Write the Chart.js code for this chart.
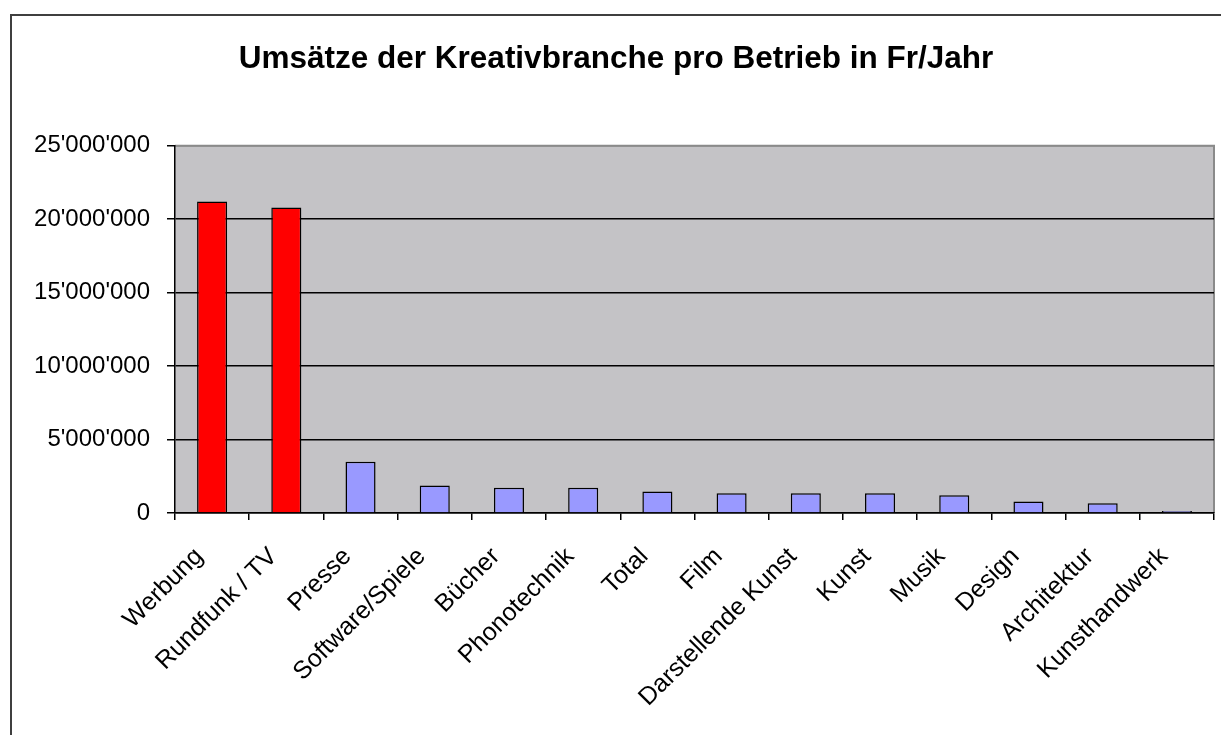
<!DOCTYPE html>
<html>
<head>
<meta charset="utf-8">
<script src="https://cdn.jsdelivr.net/npm/chart.js@4/dist/chart.umd.min.js"></script>
<style>
html,body{margin:0;padding:0;background:#fff;overflow:hidden;}
#wrap{position:relative;width:1221px;height:735px;}
</style>
</head>
<body>
<div id="wrap"><canvas id="c" width="1221" height="735"></canvas></div>
<script>
const categories = ['Werbung','Rundfunk / TV','Presse','Software/Spiele','Bücher','Phonotechnik','Total','Film','Darstellende Kunst','Kunst','Musik','Design','Architektur','Kunsthandwerk'];
const values = [21200000, 20800000, 3490000, 1880000, 1720000, 1720000, 1470000, 1340000, 1340000, 1340000, 1200000, 790000, 660000, 140000];
const yTicks = [0, 5000000, 10000000, 15000000, 20000000, 25000000];
const titleText = 'Umsätze der Kreativbranche pro Betrieb in Fr/Jahr';

const barColors = values.map((v, i) => i < 2 ? '#FF0000' : '#9999FF');
const FONT = '"Liberation Sans", Arial, sans-serif';

const frame = {
  id: 'frame',
  beforeDraw(chart) {
    const ctx = chart.ctx, a = chart.chartArea;
    ctx.save();
    ctx.fillStyle = '#fff';
    ctx.fillRect(0, 0, chart.width, chart.height);
    ctx.strokeStyle = '#3f3f3f';
    ctx.lineWidth = 2;
    ctx.strokeRect(11, 15, 2000, 2000);
    ctx.fillStyle = '#C4C3C6';
    ctx.fillRect(a.left, a.top, a.right - a.left, a.bottom - a.top);
    ctx.strokeStyle = '#8a8a8a';
    ctx.lineWidth = 2;
    ctx.beginPath();
    ctx.moveTo(a.left, a.top);
    ctx.lineTo(a.right, a.top);
    ctx.lineTo(a.right, a.bottom);
    ctx.stroke();
    ctx.restore();
  }
};

function fmt(v) {
  return String(v).replace(/\B(?=(\d{3})+(?!\d))/g, "'");
}

new Chart(document.getElementById('c'), {
  type: 'bar',
  data: {
    labels: categories,
    datasets: [{
      data: values,
      backgroundColor: barColors,
      borderColor: '#000',
      borderWidth: 1.5,
      categoryPercentage: 1,
      barPercentage: 0.405
    }]
  },
  options: {
    responsive: false,
    animation: false,
    layout: { padding: { left: 18, right: 7, top: 0, bottom: 0 } },
    plugins: {
      legend: { display: false },
      tooltip: { enabled: false },
      title: {
        display: true,
        text: titleText,
        color: '#000',
        font: { family: FONT, size: 31.5, weight: 'bold' },
        padding: { top: 40, bottom: 68 }
      }
    },
    scales: {
      x: {
        offset: true,
        grid: { offset: true, drawOnChartArea: false, drawTicks: true, tickLength: 7, color: '#000', lineWidth: 1.5 },
        border: { display: true, color: '#000', width: 1.5 },
        ticks: { color: '#000', font: { family: FONT, size: 25 }, minRotation: 45, maxRotation: 45, autoSkip: false, padding: 22, labelOffset: -13 },
        afterFit(s) { s.height = 222; }
      },
      y: {
        min: 0, max: 25000000,
        afterBuildTicks(s) { s.ticks = yTicks.map(v => ({ value: v })); },
        grid: {
          color: ctx => ctx.tick && ctx.tick.value === 25000000 ? '#8a8a8a' : '#000',
          tickColor: '#000',
          lineWidth: 1.5, tickLength: 8
        },
        border: { display: true, color: '#000', width: 1.5 },
        ticks: { color: '#000', font: { family: FONT, size: 24 }, padding: 17, callback: v => fmt(v) },
        afterFit(s) { s.width = 157; }
      }
    }
  },
  plugins: [frame]
});
</script>
</body>
</html>
